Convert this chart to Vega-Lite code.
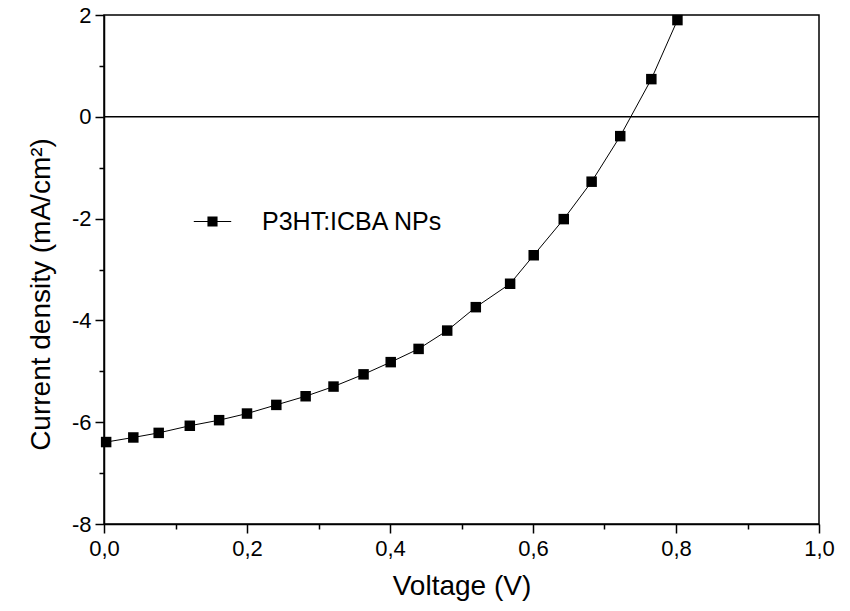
{
  "$schema": "https://vega.github.io/schema/vega-lite/v6.json",
  "width": 715,
  "height": 509,
  "autosize": "none",
  "padding": {"left": 104, "top": 15, "right": 31, "bottom": 87},
  "background": "white",
  "config": {
    "font": "Liberation Sans",
    "view": {"stroke": "black", "strokeWidth": 1.5},
    "axis": {
      "grid": false,
      "domainColor": "black",
      "domainWidth": 1.5,
      "tickColor": "black",
      "tickWidth": 1.5,
      "labelColor": "black",
      "titleColor": "black",
      "labelFont": "Liberation Sans",
      "titleFont": "Liberation Sans",
      "labelFontSize": 22,
      "titleFontSize": 28,
      "titleFontWeight": "normal",
      "labelFlush": false,
      "labelOverlap": false
    }
  },
  "layer": [
    {
      "data": {"values": [{"y": 0}]},
      "mark": {"type": "rule", "color": "black", "strokeWidth": 1.5},
      "encoding": {
        "y": {"field": "y", "type": "quantitative", "scale": {"domain": [-8, 2], "nice": false, "zero": false}}
      }
    },
    {
      "data": {
        "values": [
          {"voltage": 0.003, "current": -6.39, "series": "P3HT:ICBA NPs"},
          {"voltage": 0.041, "current": -6.30, "series": "P3HT:ICBA NPs"},
          {"voltage": 0.0765, "current": -6.21, "series": "P3HT:ICBA NPs"},
          {"voltage": 0.120, "current": -6.07, "series": "P3HT:ICBA NPs"},
          {"voltage": 0.161, "current": -5.96, "series": "P3HT:ICBA NPs"},
          {"voltage": 0.200, "current": -5.83, "series": "P3HT:ICBA NPs"},
          {"voltage": 0.241, "current": -5.66, "series": "P3HT:ICBA NPs"},
          {"voltage": 0.282, "current": -5.49, "series": "P3HT:ICBA NPs"},
          {"voltage": 0.321, "current": -5.30, "series": "P3HT:ICBA NPs"},
          {"voltage": 0.363, "current": -5.06, "series": "P3HT:ICBA NPs"},
          {"voltage": 0.401, "current": -4.82, "series": "P3HT:ICBA NPs"},
          {"voltage": 0.440, "current": -4.56, "series": "P3HT:ICBA NPs"},
          {"voltage": 0.480, "current": -4.20, "series": "P3HT:ICBA NPs"},
          {"voltage": 0.520, "current": -3.74, "series": "P3HT:ICBA NPs"},
          {"voltage": 0.568, "current": -3.28, "series": "P3HT:ICBA NPs"},
          {"voltage": 0.601, "current": -2.72, "series": "P3HT:ICBA NPs"},
          {"voltage": 0.643, "current": -2.01, "series": "P3HT:ICBA NPs"},
          {"voltage": 0.682, "current": -1.275, "series": "P3HT:ICBA NPs"},
          {"voltage": 0.722, "current": -0.38, "series": "P3HT:ICBA NPs"},
          {"voltage": 0.7655, "current": 0.74, "series": "P3HT:ICBA NPs"},
          {"voltage": 0.802, "current": 1.90, "series": "P3HT:ICBA NPs"}
        ]
      },
      "encoding": {
        "x": {
          "field": "voltage", "type": "quantitative",
          "scale": {"domain": [0, 1], "nice": false, "zero": false},
          "axis": {
            "title": "Voltage (V)",
            "values": [0, 0.1, 0.2, 0.3, 0.4, 0.5, 0.6, 0.7, 0.8, 0.9, 1.0],
            "labelExpr": "round(datum.value*10) % 2 == 0 ? replace(format(datum.value, '.1f'), '.', ',') : ''",
            "tickSize": {"condition": {"test": "round(datum.value*10) % 2 == 0", "value": 9}, "value": 5},
            "labelPadding": 5,
            "titlePadding": 13
          }
        },
        "y": {
          "field": "current", "type": "quantitative",
          "scale": {"domain": [-8, 2], "nice": false, "zero": false},
          "axis": {
            "title": "Current density (mA/cm²)",
            "titleY": 279,
            "values": [-8, -7, -6, -5, -4, -3, -2, -1, 0, 1, 2],
            "labelExpr": "datum.value % 2 == 0 ? toString(datum.value) : ''",
            "tickSize": {"condition": {"test": "datum.value % 2 == 0", "value": 9}, "value": 5},
            "labelPadding": 4,
            "titlePadding": 16
          }
        }
      },
      "layer": [
        {
          "mark": {"type": "line", "color": "black", "strokeWidth": 1},
          "encoding": {"detail": {"field": "series"}}
        },
        {
          "mark": {"type": "point", "shape": "square", "filled": true, "size": 110, "opacity": 1},
          "encoding": {
            "color": {
              "field": "series", "type": "nominal",
              "scale": {"range": ["black"]},
              "legend": {
                "orient": "none",
                "legendX": 89,
                "legendY": 187,
                "title": null,
                "symbolType": "M-1,-0.03H1V0.03H-1ZM-0.27,-0.27H0.27V0.27H-0.27Z",
                "symbolSize": 1400,
                "symbolFillColor": "black",
                "labelFontSize": 25,
                "labelFont": "Liberation Sans",
                "labelColor": "black",
                "labelLimit": 0,
                "labelOffset": 30,
                "encode": {
                  "symbols": {"update": {"fill": {"value": "black"}, "opacity": {"value": 1}}}
                }
              }
            }
          }
        }
      ]
    }
  ]
}
